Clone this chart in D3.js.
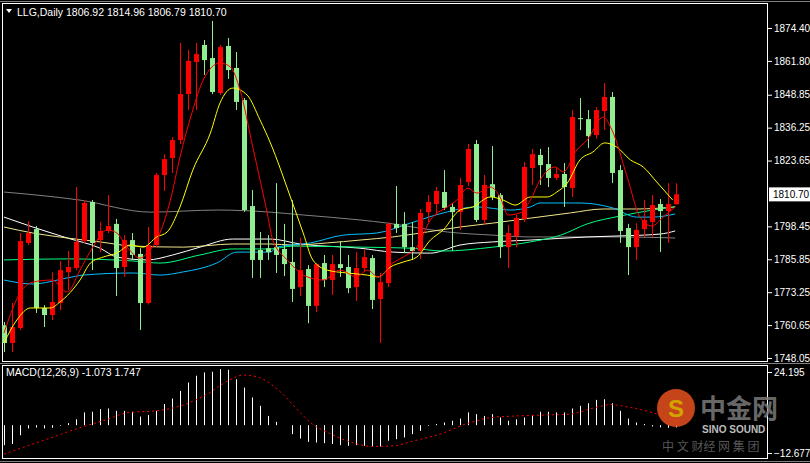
<!DOCTYPE html>
<html>
<head>
<meta charset="utf-8">
<script src="https://cdn.jsdelivr.net/npm/d3@7"></script>
<style>
  body { margin: 0; background: #000; }
  svg { display: block; font-family: "Liberation Sans", Arial, sans-serif; }
  .axis text { fill: #fff; font-size: 10px; font-family: "Liberation Sans", Arial, sans-serif; }
  .axis line, .axis path { stroke: #fff; }
</style>
</head>
<body>
<svg id="chart" width="810" height="463"></svg>
<script>
// candles: open, high, low, close
const opens  = [1760.6,1753.8,1759.5,1792.1,1797.4,1767.2,1764.5,1769.1,1780.9,1782.5,1792.8,1807.8,1793.2,1796.7,1799.4,1782.9,1793.2,1787.9,1769.1,1791.3,1818.1,1824.6,1831.5,1849.1,1861.4,1867.9,1862.9,1849.5,1867.5,1859.1,1846.8,1806.2,1789.4,1790.1,1790.5,1789.8,1784.8,1775.2,1782.1,1768.0,1784.4,1777.9,1784.0,1782.9,1775.2,1782.5,1786.3,1770.6,1776.7,1799.4,1799.4,1790.5,1789.0,1803.9,1807.0,1811.6,1805.9,1803.9,1815.4,1830.0,1800.9,1814.6,1810.4,1790.5,1794.7,1801.3,1820.8,1825.8,1822.3,1817.0,1818.5,1813.1,1839.9,1839.5,1833.4,1842.6,1848.0,1820.0,1797.8,1790.5,1797.4,1800.1,1807.0,1804.3,1806.92];
const highs  = [1761.8,1769.1,1795.9,1800.5,1798.6,1768.3,1780.9,1785.2,1789.0,1813.5,1808.5,1808.5,1800.1,1810.4,1801.3,1795.1,1795.9,1790.1,1798.2,1818.9,1826.1,1832.6,1868.7,1866.0,1868.7,1869.8,1877.1,1867.9,1870.6,1865.2,1847.6,1812.4,1796.3,1795.1,1815.0,1799.4,1808.5,1794.0,1783.6,1784.4,1787.5,1787.5,1792.8,1787.5,1788.6,1789.4,1787.5,1780.6,1800.1,1813.9,1803.9,1800.1,1805.1,1810.4,1813.5,1820.0,1807.4,1817.0,1830.0,1831.5,1818.1,1829.2,1811.2,1799.0,1802.8,1823.1,1828.1,1828.1,1828.8,1821.2,1822.7,1843.0,1847.6,1843.0,1844.1,1853.3,1849.9,1821.9,1799.4,1799.7,1808.5,1810.4,1808.9,1815.0,1814.96];
const lows   = [1750.3,1750.3,1758.8,1791.3,1765.3,1759.9,1762.6,1766.4,1774.1,1781.7,1792.1,1781.7,1788.6,1795.9,1771.8,1779.1,1785.6,1758.8,1768.5,1790.5,1812.0,1818.9,1830.0,1843.0,1843.0,1856.4,1849.1,1848.7,1854.9,1843.0,1804.0,1778.7,1778.7,1785.6,1780.6,1779.4,1769.5,1771.8,1761.4,1765.6,1775.2,1772.2,1779.1,1772.9,1769.9,1780.9,1766.8,1753.8,1775.2,1795.9,1788.2,1785.6,1785.9,1800.1,1802.8,1804.7,1789.0,1797.1,1813.9,1800.1,1799.0,1808.5,1786.3,1782.5,1790.5,1800.1,1814.3,1814.3,1813.5,1816.2,1805.9,1809.7,1835.3,1828.4,1832.0,1835.3,1815.0,1792.1,1779.8,1785.6,1794.4,1794.4,1788.6,1792.1,1806.79];
const closes = [1753.8,1759.9,1792.8,1795.9,1767.2,1764.5,1769.5,1781.7,1782.9,1792.5,1807.4,1792.1,1796.7,1798.6,1782.5,1793.2,1787.5,1769.1,1791.3,1818.1,1824.2,1831.5,1849.1,1861.8,1864.4,1862.1,1849.9,1867.1,1858.3,1846.1,1804.7,1785.6,1785.6,1788.6,1787.5,1784.0,1774.5,1781.7,1768.0,1784.0,1777.9,1784.0,1782.5,1774.8,1782.5,1786.7,1770.3,1777.1,1799.4,1797.8,1790.5,1789.0,1803.6,1807.8,1812.0,1805.5,1803.9,1814.3,1828.1,1800.9,1814.3,1809.7,1790.5,1795.9,1801.7,1821.2,1826.1,1821.9,1817.0,1818.5,1813.5,1840.3,1839.5,1833.0,1843.0,1848.0,1818.9,1796.7,1790.5,1797.1,1800.9,1806.6,1804.3,1807.0,1810.70];

// moving averages: [bar index, price]
const maRed = [[0,1757.6],[2,1772.9],[3.6,1777.1],[6,1777.9],[7.9,1773.3],[9.5,1781.7],[11.1,1790.5],[12.9,1797.1],[14.1,1795.9],[15.4,1790.5],[17,1786.3],[17.9,1788.2],[19.5,1795.9],[20.8,1808.5],[22,1825.0],[23.6,1843.0],[24.9,1854.5],[27,1861.0],[28.3,1859.5],[29.5,1850.7],[31.1,1828.8],[32.9,1803.6],[33.6,1793.2],[35.4,1785.6],[37.9,1779.1],[39.9,1777.9],[42,1781.7],[44.1,1779.1],[45.4,1781.7],[46.8,1779.1],[48.6,1784.4],[49.9,1786.7],[51.6,1790.5],[53.3,1800.9],[55.4,1805.9],[56.6,1808.5],[58,1813.1],[59.1,1811.2],[60.8,1813.5],[62,1809.7],[63,1802.8],[64.5,1803.6],[65.8,1808.5],[67,1816.2],[68.9,1821.2],[69.9,1819.3],[71.6,1827.7],[72.9,1831.5],[74.9,1840.3],[76,1835.3],[77.9,1817.4],[79.5,1802.0],[81,1798.6],[82.4,1802.0],[83.9,1805.9]];
const maYellow = [[0,1753.8],[1.6,1762.6],[3.3,1767.2],[5.8,1767.2],[7,1769.5],[9.5,1777.9],[10.8,1784.4],[12.4,1786.7],[14.1,1788.2],[15.8,1791.3],[17.4,1790.5],[19.1,1794.4],[20.4,1796.3],[22,1805.9],[23.6,1820.0],[25.8,1834.2],[27,1845.7],[28.6,1851.4],[30.4,1848.7],[32,1839.2],[33.3,1830.4],[35.8,1809.7],[37.4,1795.9],[38.6,1785.6],[40.4,1781.7],[42.9,1780.6],[45.4,1779.8],[46.8,1779.1],[48.3,1782.9],[49.9,1784.8],[51.6,1786.7],[53.3,1793.2],[54.9,1797.1],[57,1804.7],[58.6,1805.9],[60.8,1809.7],[62.4,1808.5],[63.9,1806.6],[65.8,1809.7],[67.9,1809.7],[69.1,1811.6],[70.4,1815.0],[72,1823.9],[73.6,1826.9],[75.1,1830.4],[76.6,1828.8],[78.3,1823.9],[79.9,1821.2],[81.6,1815.4],[83.6,1808.5]];
const maGray = [[0,1811.6],[9.5,1808.5],[18.3,1803.9],[26.6,1804.7],[33.3,1803.9],[37.4,1802.8],[44.5,1800.9],[47.9,1799.7],[51.1,1798.2],[55.4,1796.3],[61.1,1795.1],[65.8,1794.4],[69.5,1794.4],[77,1794.4],[83.9,1794.0]];
const maWhite = [[0,1802.0],[3.6,1798.2],[7.9,1794.0],[12,1790.1],[14.1,1786.7],[17.9,1785.6],[21.1,1787.5],[24.5,1790.5],[28.6,1793.6],[33.3,1793.6],[37,1791.7],[44.5,1790.1],[48.6,1788.6],[53.3,1788.2],[57,1791.3],[61.1,1792.5],[65.8,1793.2],[72.9,1794.4],[77,1794.8],[82,1795.5],[83.9,1796.7]];
const maKhaki = [[0,1798.2],[3.6,1795.9],[7.9,1794.0],[12,1792.5],[16.1,1790.9],[22.4,1790.5],[28.6,1791.7],[33.3,1791.7],[36.1,1791.3],[40.4,1792.1],[44.5,1793.2],[48.6,1794.4],[52.9,1796.3],[57,1798.2],[61.1,1799.7],[65.8,1801.6],[70.8,1803.6],[74.9,1805.1],[79.1,1805.1],[83.9,1805.9]];
const maGreen = [[0,1785.6],[7.9,1786.0],[16.1,1785.2],[19.5,1784.4],[24.5,1787.5],[28.6,1789.8],[33.3,1789.8],[36.1,1790.9],[44.5,1790.5],[50.8,1790.1],[54.9,1789.0],[61.1,1790.5],[65.8,1792.5],[69.6,1795.1],[72.9,1799.4],[77,1802.4],[81.1,1804.7],[83.9,1805.9]];
const maBlue = [[0,1777.9],[3.6,1776.4],[7.9,1778.7],[9.9,1779.8],[16.1,1780.6],[19.5,1779.8],[22.4,1781.0],[26.6,1784.4],[29.1,1788.6],[33.3,1788.6],[34.1,1790.5],[38.3,1792.1],[42.4,1795.1],[46.6,1795.9],[50.8,1799.7],[54.9,1803.6],[59.1,1805.9],[63.3,1804.7],[65.8,1805.9],[67,1807.4],[72,1807.4],[76.1,1805.5],[79.1,1802.0],[81.1,1802.0],[83.9,1803.2]];

// MACD histogram and signal
const macdHist = [-9.1,-8.6,-4.6,-1.5,-1.1,-1.5,-1.2,-0.3,0.9,2.7,5.8,6.1,7.3,7.6,6.5,6.5,6.1,3.9,4.6,6.5,9.6,12.1,15.6,19.4,22.5,24.0,24.3,25.5,25.2,20.9,17.1,12.6,8.8,4.2,1.5,0,-4.1,-6.1,-7.6,-7.9,-8.2,-8.6,-9.1,-9.4,-9.1,-9.4,-9.7,-9.7,-7.1,-6.4,-5.6,-4.1,-2.6,-0.3,0.5,1.2,2.0,3.0,5.8,5.0,4.2,5.0,3.5,2.0,2.7,3.5,4.6,6.1,6.1,5.8,5.8,7.6,8.8,10.0,11.5,11.8,10.0,6.5,3.0,1.2,0.5,-0.6,-1.0,-1.2,-1.073];
const macdSignal = [[0,-13.2],[2.7,-9.7],[6,-5.6],[9.2,-1.5],[12.4,2.0],[15.7,5.8],[18.9,6.5],[22.1,8.8],[25.4,14.1],[28,20.2],[29.9,22.8],[31.9,21.7],[34.4,15.6],[37,5.8],[38.3,1.2],[40.9,-4.1],[43.5,-7.9],[46.1,-9.7],[48.7,-9.4],[51.3,-7.1],[54.5,-4.1],[57.7,0.5],[61,3.5],[64.2,4.2],[67.4,4.6],[70.7,5.0],[73.9,8.0],[75.8,9.3],[78.4,8.0],[81,5.8],[84,1.747]];

const priceTicks = [1874.40,1861.80,1848.85,1836.25,1823.65,1798.45,1785.85,1773.25,1760.65,1748.05];
const lastPrice = 1810.70;
const macdTicks = [24.195, -12.677];

const svg = d3.select("#chart");

const x = d3.scaleLinear().domain([0, 84]).range([4, 676]);
const y = d3.scaleLinear().domain([1748.05, 1874.40]).range([358, 28]);
const ym = d3.scaleLinear().domain([-12.677, 24.195]).range([453, 372]);

// frames
svg.append("rect").attr("x", 0).attr("y", 0).attr("width", 810).attr("height", 463).attr("fill", "#000");
svg.append("line").attr("x1", 0).attr("x2", 810).attr("y1", 1.5).attr("y2", 1.5).attr("stroke", "#808080");
svg.append("rect").attr("x", 2.5).attr("y", 3.5).attr("width", 765).attr("height", 358).attr("fill", "none").attr("stroke", "#fff");
svg.append("rect").attr("x", 2.5).attr("y", 365.5).attr("width", 765).attr("height", 93).attr("fill", "none").attr("stroke", "#fff");
svg.append("line").attr("x1", 0).attr("x2", 810).attr("y1", 363.5).attr("y2", 363.5).attr("stroke", "#808080");
svg.append("line").attr("x1", 0).attr("x2", 810).attr("y1", 461.5).attr("y2", 461.5).attr("stroke", "#808080");

const main = svg.append("g");

// moving averages
const lineOf = (yy) => d3.line().x(d => x(d[0])).y(d => yy(d[1])).curve(d3.curveMonotoneX);
[[maGray, "#808080"], [maWhite, "#ffffff"], [maKhaki, "#f0e68c"], [maGreen, "#00ff7f"], [maBlue, "#00bfff"]]
  .forEach(([d, c]) => main.append("path").attr("d", lineOf(y)(d)).attr("fill", "none").attr("stroke", c).attr("stroke-width", 1));

// candles
const candles = d3.range(opens.length).map(i => ({ i, o: opens[i], h: highs[i], l: lows[i], c: closes[i] }));
const col = d => d.c >= d.o ? "#ff0000" : "#90ee90";
main.append("g").selectAll("line").data(candles).join("line")
  .attr("x1", d => Math.round(x(d.i)) + 0.5).attr("x2", d => Math.round(x(d.i)) + 0.5)
  .attr("y1", d => y(d.h)).attr("y2", d => y(d.l)).attr("stroke", col);
main.append("g").selectAll("rect").data(candles).join("rect")
  .attr("x", d => Math.round(x(d.i)) - 2).attr("width", 5)
  .attr("y", d => y(Math.max(d.o, d.c))).attr("height", d => Math.max(1, Math.abs(y(d.o) - y(d.c))))
  .attr("fill", col);

main.append("path").attr("d", lineOf(y)(maYellow)).attr("fill", "none").attr("stroke", "#ffff00");
main.append("path").attr("d", lineOf(y)(maRed)).attr("fill", "none").attr("stroke", "#ff0000");

// price axis
const ax = svg.append("g").attr("class", "axis").attr("transform", "translate(768,0)")
  .call(d3.axisRight(y).tickValues(priceTicks).tickSize(4).tickPadding(2).tickFormat(d3.format(".2f")));
ax.select(".domain").remove();
svg.append("rect").attr("x", 769).attr("y", y(lastPrice) - 7).attr("width", 41).attr("height", 14).attr("fill", "#fff");
svg.append("text").attr("x", 773).attr("y", y(lastPrice) + 4).attr("font-size", 10).attr("fill", "#000").text(lastPrice.toFixed(2));

// header
svg.append("path").attr("d", "M6,9 L12,9 L9,13 Z").attr("fill", "#fff");
svg.append("text").attr("x", 17).attr("y", 16).attr("font-size", 10.5).attr("fill", "#fff")
  .text("LLG,Daily  1806.92 1814.96 1806.79 1810.70");

// MACD panel
const mp = svg.append("g");
mp.selectAll("line").data(macdHist).join("line")
  .attr("x1", (d, i) => Math.round(x(i)) + 0.5).attr("x2", (d, i) => Math.round(x(i)) + 0.5)
  .attr("y1", ym(0)).attr("y2", d => ym(d)).attr("stroke", "#fff");
mp.append("path").attr("d", lineOf(ym)(macdSignal)).attr("fill", "none")
  .attr("stroke", "#ff0000").attr("stroke-dasharray", "2,3");
const mx = svg.append("g").attr("class", "axis").attr("transform", "translate(768,0)")
  .call(d3.axisRight(ym).tickValues(macdTicks).tickSize(4).tickPadding(2).tickFormat(d3.format(".3f")));
mx.select(".domain").remove();
svg.append("text").attr("x", 6).attr("y", 376).attr("font-size", 10.5).attr("fill", "#fff")
  .text("MACD(12,26,9) -1.073 1.747");

// watermark
const wm = svg.append("g").attr("opacity", 0.85);
wm.append("circle").attr("cx", 676).attr("cy", 408).attr("r", 19).attr("fill", "#e8501e");
wm.append("text").attr("x", 676).attr("y", 417).attr("text-anchor", "middle").attr("font-size", 24)
  .attr("font-weight", "bold").attr("fill", "#f7c100").text("S");
wm.append("text").attr("x", 700).attr("y", 418).attr("font-size", 26).attr("font-family", "Noto Sans CJK SC")
  .attr("font-weight", "bold").attr("fill", "#7a7a7a").text("中金网");
wm.append("text").attr("x", 702).attr("y", 433).attr("font-size", 10).attr("font-weight", "bold").attr("fill", "#ddd").text("SINO SOUND");
wm.append("text").attr("x", 662).attr("y", 451).attr("font-size", 12).attr("font-family", "Noto Sans CJK SC")
  .attr("fill", "#666").text("中 文 财经 网 集 团");
</script>
</body>
</html>
